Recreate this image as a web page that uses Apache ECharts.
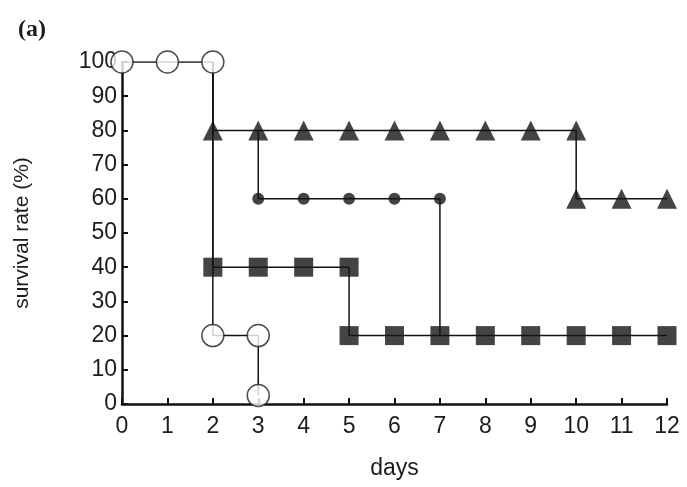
<!DOCTYPE html>
<html><head><meta charset="utf-8">
<script src="https://cdn.jsdelivr.net/npm/echarts@6/dist/echarts.min.js"></script>
<style>html,body{margin:0;padding:0;background:#fff}#c{width:687px;height:487px}</style>
</head><body><div id="c"></div>
<script>
const days = [0,1,2,3,4,5,6,7,8,9,10,11,12];
const yTicks = [0,10,20,30,40,50,60,70,80,90,100];
// open circles
const openX = [0,1,2,2,3,3];
const openY = [100,100,100,20,20,2.5];
// filled triangles (path starts at the 100% drop at day 2)
const triStartX = [2], triStartY = [100];
const triX = [2,3,4,5,6,7,8,9,10,10,11,12];
const triY = [80,80,80,80,80,80,80,80,80,60,60,60];
// filled circles (path starts at the 80% drop at day 3, ends at 20% at day 7)
const dotStartX = [3], dotStartY = [80];
const dotX = [3,4,5,6,7];
const dotY = [60,60,60,60,60];
const dotEndX = [7], dotEndY = [20];
// filled squares
const sqStartX = [2], sqStartY = [100];
const sqX = [2,3,4,5,5,6,7,8,9,10,11,12];
const sqY = [40,40,40,40,20,20,20,20,20,20,20,20];

const zip = (xs, ys) => xs.map((x, i) => [x, ys[i]]);
const lineStyle = {color:'#111', width:1.5};
function pathSeries(pts){
  return {type:'line', data:pts, showSymbol:false, symbol:'none', lineStyle:lineStyle, z:2, animation:false};
}
function markSeries(pts, symbol, size, filled){
  return {type:'scatter', data:pts, symbol:symbol, symbolSize:size, z:3, animation:false,
    itemStyle: filled ? {color:'#151515'} : {color:'#fff', borderColor:'#222', borderWidth:1.5}};
}
const txt = '#1c1c1c';
const chart = echarts.init(document.getElementById('c'), null, {renderer:'canvas'});
chart.setOption({
  backgroundColor:'#fff',
  title:{text:'(a)', left:13, top:13, textStyle:{fontFamily:'Liberation Serif', fontWeight:'bold', fontSize:24, color:txt}},
  grid:{left:122, right:20, top:62, bottom:83, containLabel:false, outerBoundsMode:'none'},
  xAxis:{type:'value', min:0, max:12, interval:1, name:'days', nameLocation:'middle', nameGap:53,
    nameTextStyle:{fontFamily:'Liberation Sans', fontSize:23, color:txt},
    axisLine:{lineStyle:{color:'#111', width:2.5}}, axisTick:{inside:true, length:6, lineStyle:{color:'#111', width:2}},
    axisLabel:{margin:11, fontFamily:'Liberation Sans', fontSize:23, color:txt, formatter:v=>days.includes(v)?String(v):''},
    splitLine:{show:false}},
  yAxis:{type:'value', min:0, max:100, interval:10, name:'survival rate (%)', nameLocation:'middle', nameGap:89,
    nameTextStyle:{fontFamily:'Liberation Sans', fontSize:21, color:txt},
    axisLine:{show:true, lineStyle:{color:'#111', width:2.5}}, axisTick:{show:true, inside:true, length:6, lineStyle:{color:'#111', width:2}},
    axisLabel:{margin:5, fontFamily:'Liberation Sans', fontSize:23, color:txt, formatter:v=>yTicks.includes(v)?String(v):''},
    splitLine:{show:false}},
  series:[
    pathSeries(zip(openX, openY)),
    pathSeries(zip(triStartX, triStartY).concat(zip(triX, triY))),
    pathSeries(zip(dotStartX, dotStartY).concat(zip(dotX, dotY), zip(dotEndX, dotEndY))),
    pathSeries(zip(sqStartX, sqStartY).concat(zip(sqX, sqY))),
    markSeries(zip(openX, openY), 'circle', 22, false),
    markSeries(zip(triX, triY), 'triangle', 20, true),
    markSeries(zip(dotX, dotY), 'circle', 12, true),
    markSeries(zip(sqX, sqY), 'rect', 19, true)
  ]
});
</script></body></html>
